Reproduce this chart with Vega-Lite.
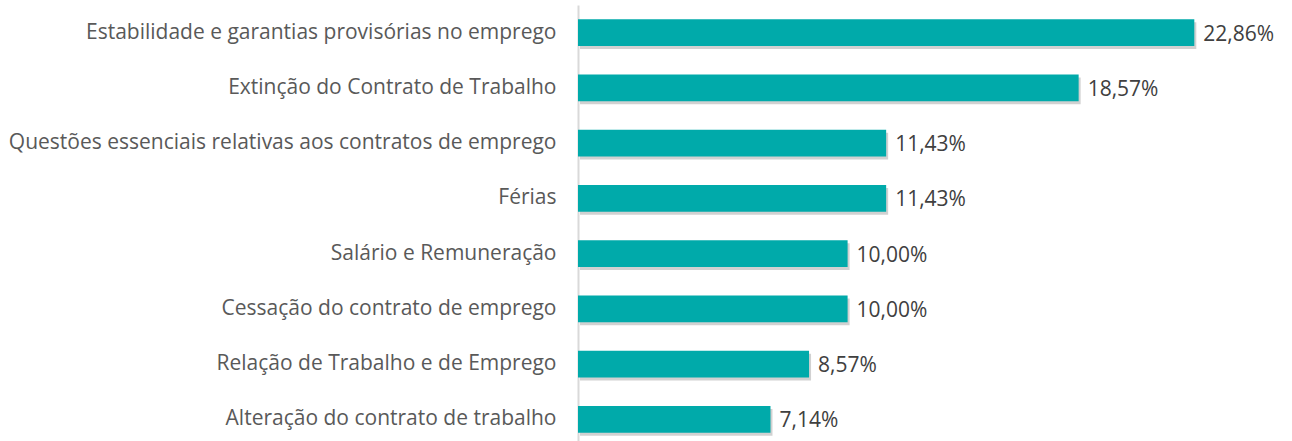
{
  "$schema": "https://vega.github.io/schema/vega-lite/v6.json",
  "autosize": "none",
  "width": 674,
  "height": 442,
  "padding": {"left": 578, "top": 5, "right": 40, "bottom": 0},
  "background": "white",
  "config": {
    "view": {"stroke": null},
    "locale": {"number": {"decimal": ",", "thousands": ".", "grouping": [3], "currency": ["R$", ""]}}
  },
  "data": {
    "values": [
      {"tema": "Estabilidade e garantias provisórias no emprego", "valor": 0.2286},
      {"tema": "Extinção do Contrato de Trabalho", "valor": 0.1857},
      {"tema": "Questões essenciais relativas aos contratos de emprego", "valor": 0.1143},
      {"tema": "Férias", "valor": 0.1143},
      {"tema": "Salário e Remuneração", "valor": 0.1},
      {"tema": "Cessação do contrato de emprego", "valor": 0.1},
      {"tema": "Relação de Trabalho e de Emprego", "valor": 0.0857},
      {"tema": "Alteração do contrato de trabalho", "valor": 0.0714}
    ]
  },
  "encoding": {
    "y": {
      "field": "tema",
      "type": "nominal",
      "sort": null,
      "scale": {"paddingInner": 0.52, "paddingOuter": 0.26},
      "axis": {
        "title": null,
        "ticks": false,
        "domainColor": "#D9D9D9",
        "domainWidth": 2,
        "labelFont": "Open Sans",
        "labelFontSize": 21,
        "labelColor": "#595959",
        "labelPadding": 22,
        "labelLimit": 700
      }
    },
    "x": {
      "field": "valor",
      "type": "quantitative",
      "scale": {"domain": [0, 0.25], "nice": false},
      "axis": null
    }
  },
  "layer": [
    {"mark": {"type": "bar", "color": "#000000", "opacity": 0.18, "xOffset": 2, "yOffset": 3}},
    {"mark": {"type": "bar", "color": "#00AAAA"}},
    {
      "mark": {"type": "text", "align": "left", "baseline": "middle", "dx": 9, "dy": 2, "font": "Open Sans", "fontSize": 21, "color": "#404040"},
      "encoding": {"text": {"field": "valor", "type": "quantitative", "format": ".2%"}}
    }
  ]
}
